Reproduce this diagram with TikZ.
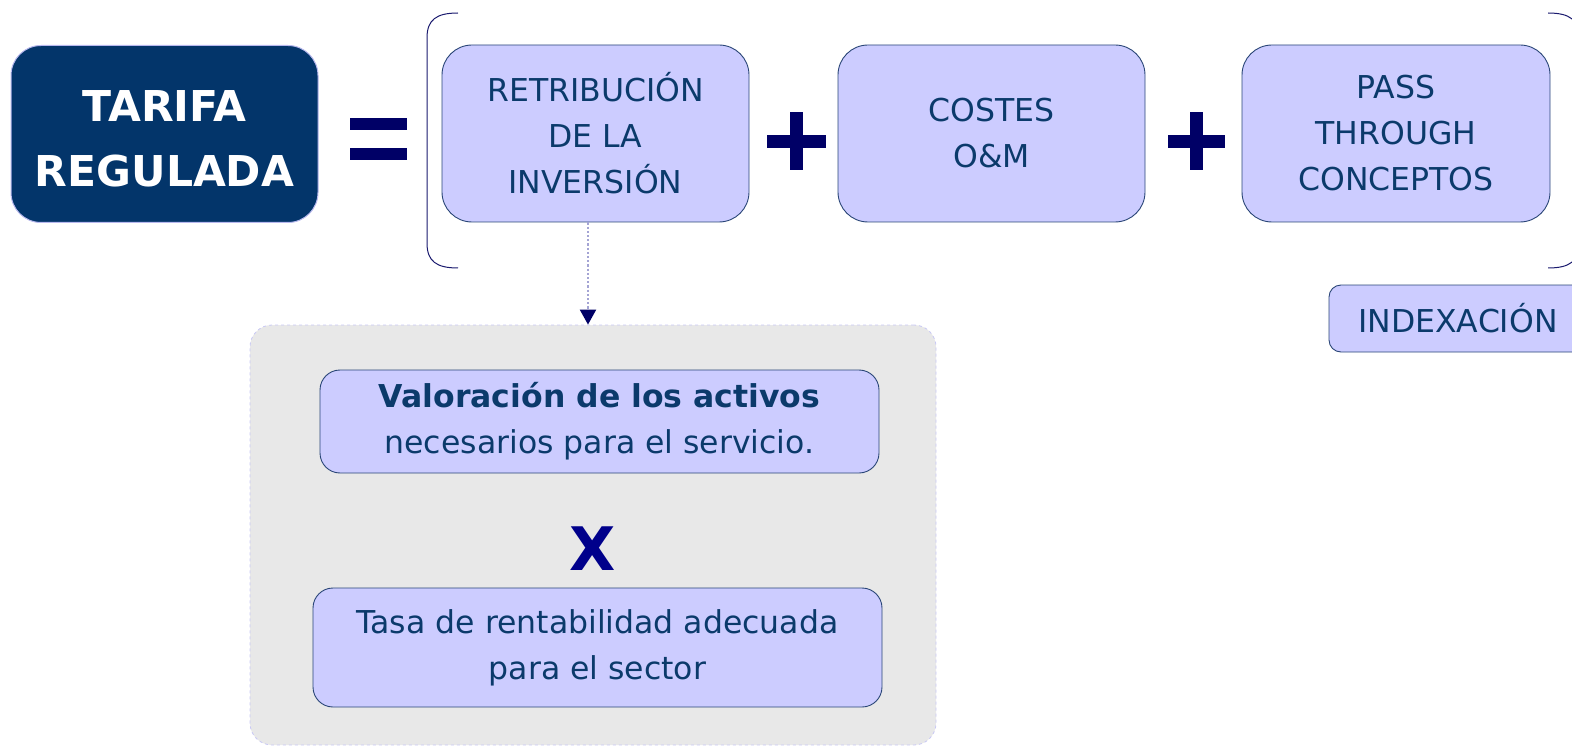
\documentclass[tikz,border=0pt]{standalone}
\usepackage{fontspec}
\setmainfont{DejaVu Sans}
\usetikzlibrary{arrows.meta,calc}
\definecolor{navybox}{HTML}{03356A}
\definecolor{navyline}{HTML}{B8B8EE}
\definecolor{lilac}{HTML}{CCCCFF}
\definecolor{boxline}{HTML}{2A4677}
\definecolor{txt}{HTML}{0B3A6B}
\definecolor{sym}{HTML}{000066}
\definecolor{xcol}{HTML}{00008B}
\definecolor{grayfill}{HTML}{E8E8E8}
\definecolor{graydash}{HTML}{C8C8F4}
\definecolor{dotline}{HTML}{A4A4D4}
\definecolor{brack}{HTML}{1A1A6E}
\begin{document}
\begin{tikzpicture}[x=1pt,y=-1pt,
  lbox/.style={draw=boxline, line width=0.9pt, fill=lilac, rounded corners=30pt, inner sep=0pt, align=center, text=txt, font=\fontsize{31.5}{46}\selectfont},
  sbox/.style={lbox, rounded corners=20pt},
  symbar/.style={fill=sym}
]
\useasboundingbox (0,0) rectangle (1572,746);
\clip (0,0) rectangle (1572,746);

% left title
\node[draw=navyline, line width=1pt, fill=navybox, rounded corners=30pt, minimum width=307pt, minimum height=177pt, inner sep=0pt] (tarifa) at (164.5,134) {};
\node[align=center, text=white, inner sep=0pt, font=\fontsize{42.5}{65}\selectfont\bfseries] (tarifatxt) at ($(tarifa.center)+(0,5)$) {TARIFA\\REGULADA};

% equals
\fill[symbar] (350,118) rectangle (407,130);
\fill[symbar] (350,148) rectangle (407,160);

% bracket
\draw[brack, line width=1pt] (458,13) .. controls (436,13) and (427,20) .. (427,38) -- (427,243) .. controls (427,261) and (436,268) .. (458,268);
\draw[brack, line width=1pt] (1548,13) .. controls (1570,13) and (1579,20) .. (1579,38) -- (1579,243) .. controls (1579,261) and (1570,268) .. (1548,268);

% top boxes
\node[lbox, minimum width=307pt, minimum height=177pt] (ret) at (595.5,133.5) {RETRIBUCIÓN\\DE LA\\INVERSIÓN};
\node[lbox, minimum width=307pt, minimum height=177pt] (costes) at (991.5,133.5) {COSTES\\O\&M};
\node[lbox, minimum width=308pt, minimum height=177pt] (pass) at (1396,133.5) {PASS\\THROUGH\\CONCEPTOS};

% plus signs
\fill[symbar] (767,135) rectangle (826,148);
\fill[symbar] (790,112) rectangle (803,170);
\fill[symbar] (1168,135) rectangle (1225,148);
\fill[symbar] (1190,112) rectangle (1203,170);

% indexacion
\node[sbox, rounded corners=12pt, minimum width=258pt, minimum height=67pt] (index) at (1458,318.5) {INDEXACIÓN};

% gray panel
\node[draw=graydash, dashed, line width=0.8pt, fill=grayfill, rounded corners=22pt, minimum width=686pt, minimum height=420pt, inner sep=0pt] (panel) at (593,535) {};

\draw[dotline, dotted, line width=2.2pt, -{Triangle[width=16pt,length=15pt,fill=sym,color=sym]}] ($(ret.south)+(-7.5,0)$) -- ($(panel.north)+(-5,0)$);

\node[sbox, minimum width=559pt, minimum height=103pt] (valor) at (599.5,421.5) {\textbf{Valoración de los activos}\\necesarios para el servicio.};
\node[text=xcol, font=\fontsize{60}{60}\selectfont\bfseries, inner sep=0pt] (por) at (593,549) {X};
\node[sbox, minimum width=569pt, minimum height=119pt] (tasa) at (597.5,647.5) {Tasa de rentabilidad adecuada\\para el sector};
\end{tikzpicture}
\end{document}
